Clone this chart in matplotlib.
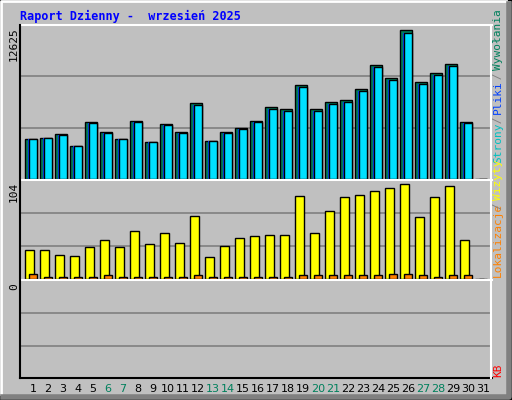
import matplotlib.pyplot as plt
import numpy as np

days = np.arange(1, 32)
weekend = [6, 7, 13, 14, 20, 21, 27, 28]

# top panel (max 12625)
hits = [3385, 3470, 3725, 2795, 4780, 3895, 3385, 4870, 3130, 4615, 3895, 6330, 3215, 3895,
        4300, 4870, 6000, 5840, 7865, 5840, 6420, 6590, 7530, 9560, 8455, 12450, 8130, 8890, 9640, 4780, 0]
files = [h * 0.98 for h in hits]
pages = [h * 0.98 for h in hits]

# middle panel (max 104)
visits = [31.8, 31.8, 26.2, 25.1, 35.1, 41.8, 35.1, 52.2, 37.5, 49.7, 38.6, 68.7, 24.0, 36.3,
          44.1, 46.2, 47.3, 47.3, 89.6, 49.7, 73.2, 88.5, 90.6, 95.1, 98.5, 103.0, 67.6, 88.5, 100.8, 41.8, 0]
sites = [4.9, 2.6, 2.6, 2.6, 2.6, 3.8, 2.6, 2.6, 2.6, 2.6, 2.6, 3.8, 2.6, 2.6, 2.6, 2.6, 2.6, 2.6,
         3.8, 3.8, 3.8, 3.8, 3.8, 3.8, 4.9, 4.9, 3.8, 2.6, 3.8, 3.8, 0]
kbytes = [0] * 31

W, H = 512, 400
bg = "#c0c0c0"
fig = plt.figure(figsize=(W / 100, H / 100), dpi=100, facecolor=bg)
mono = "DejaVu Sans Mono"


def px_axes(x0, y0, x1, y1):
    return fig.add_axes([x0 / W, 1 - y1 / H, (x1 - x0) / W, (y1 - y0) / H])


# bevel border
fig.add_artist(plt.Line2D([1 / W, 1 / W, 1 - 6 / W], [6 / H, 1 - 1 / H, 1 - 1 / H], color="white", lw=2))
fig.add_artist(plt.Line2D([3 / W, 1 - 3 / W, 1 - 3 / W], [3 / H, 3 / H, 1 - 4 / H], color="#808080", lw=4))
fig.add_artist(plt.Rectangle((0, 0), 1, 1, fill=False, ec="black", lw=1.5, transform=fig.transFigure))

xlim = (1 - 13 / 15, 1 + 458 / 15)
u = 1 / 15  # one pixel in day units


def style(ax, ymax):
    ax.set_facecolor(bg)
    ax.set_xlim(*xlim)
    ax.set_ylim(0, ymax)
    ax.set_xticks([])
    ax.set_yticks([])
    for s in ax.spines.values():
        s.set_visible(False)
    for f in (1 / 3, 2 / 3):
        ax.axhline(ymax * f, color="#808080", lw=1.2, zorder=0)


# top panel
ax1 = px_axes(20, 25, 491, 179)
ymax1 = 12625 * 152 / 149
style(ax1, ymax1)
ax1.bar(days - 8 * u, hits, width=11.7 * u, align="edge", color="#00805c", ec="black", lw=1)
ax1.bar(days - 5.5 * u, files, width=9.2 * u, align="edge", color="#0040ff", ec="none")
ax1.bar(days - 4 * u, pages, width=7.7 * u, align="edge", color="#00e0ff", ec="black", lw=1)

# middle panel
ax2 = px_axes(20, 180, 491, 279)
ymax2 = 104 * 96 / 93
style(ax2, ymax2)
ax2.bar(days - 8 * u, visits, width=8.7 * u, align="edge", color="#ffff00", ec="black", lw=1)
ax2.bar(days - 4 * u, sites, width=7.7 * u, align="edge", color="#ff8000", ec="black", lw=1)

# bottom panel
ax3 = px_axes(20, 281, 491, 378)
style(ax3, 1.0)
ax3.bar(days - 8 * u, kbytes, width=11.7 * u, align="edge", color="#ff0000", ec="black", lw=1)

# y max labels
for txt, ytop in (("12625", 27), ("104", 182), ("0", 283)):
    fig.text(14 / W, 1 - ytop / H, txt, rotation=90, family=mono, fontsize=8,
             ha="center", va="top")

# panel frames
for y in (25, 180, 280, 378):
    fig.add_artist(plt.Line2D([20 / W, 492 / W], [1 - y / H] * 2, color="white" if y != 378 else "black", lw=1.5))
fig.add_artist(plt.Line2D([20 / W, 20 / W], [1 - 378 / H, 1 - 25 / H], color="black", lw=1.5))
fig.add_artist(plt.Line2D([491 / W, 491 / W], [1 - 378 / H, 1 - 25 / H], color="white", lw=1.5))

# day labels
for d in days:
    fig.text((33 + 15 * (d - 1)) / W, 1 - 389 / H, str(d), ha="center", va="center",
             fontsize=8, color="#00805c" if d in weekend else "black")

fig.text(20 / W, 1 - 16 / H, "Raport Dzienny -  wrzesień 2025", family=mono, fontsize=8.5,
         fontweight="bold", color="#0000ff", va="center")


def vlabel_up(parts, ybottom):
    y = ybottom
    for txt, col in parts:
        fig.text(498 / W, 1 - y / H, txt, rotation=90, family=mono, fontsize=8,
                 color=col, ha="center", va="bottom")
        y -= len(txt) * 5.5


vlabel_up([("Strony", "#00c0c0"), (" / ", "#808080"), ("Pliki", "#0040ff"),
           (" / ", "#808080"), ("Wywołania", "#00805c")], 163)
vlabel_up([("Lokalizacje", "#ff8000"), (" / ", "#808080"), ("Wizyty", "#ffff00")], 277)
vlabel_up([("KB", "#ff0000")], 377)

fig.savefig("out.png", dpi=100, facecolor=bg)
